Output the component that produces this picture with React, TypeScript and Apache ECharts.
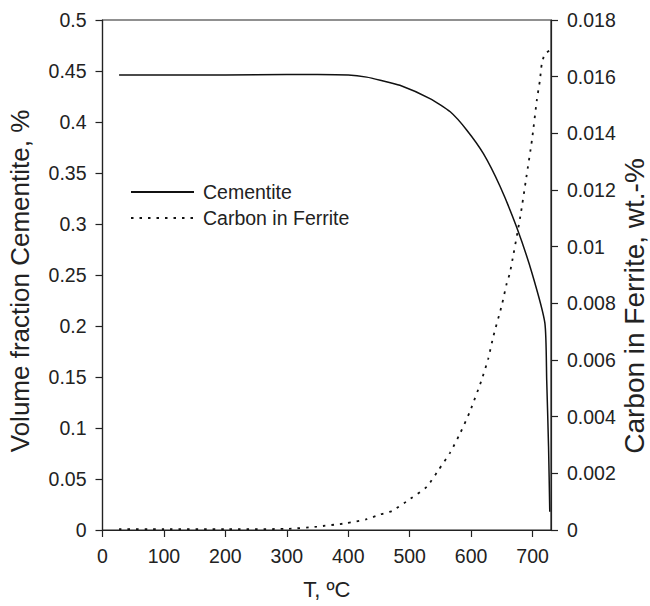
import React, { useEffect, useRef } from "react";
import * as echarts from "echarts";

const cementiteT = [27, 100, 200, 300, 350, 400, 430, 452, 484, 533, 566, 593, 620, 647, 674, 699, 720, 723, 726, 728];
const cementiteV = [0.446, 0.446, 0.446, 0.4465, 0.4465, 0.446, 0.444, 0.441, 0.436, 0.423, 0.41, 0.392, 0.369, 0.337, 0.297, 0.252, 0.203, 0.147, 0.082, 0.018];

const carbonT = [27, 100, 200, 300, 349, 397, 430, 452, 471, 501, 528, 547, 566, 582, 598, 617, 628, 636, 650, 658, 663, 680, 690, 699, 707, 712, 715, 720, 729];
const carbonC = [0.00003, 0.00003, 0.00003, 0.00004, 0.00012, 0.00024, 0.00038, 0.00055, 0.00067, 0.0011, 0.00153, 0.00212, 0.00274, 0.00341, 0.00418, 0.00529, 0.00606, 0.00682, 0.00794, 0.00871, 0.00906, 0.01106, 0.01247, 0.01376, 0.01518, 0.01588, 0.01645, 0.0168, 0.01694];

const FONT = "Arial, 'Liberation Sans', sans-serif";
const INK = "#222";

export default function App() {
  const ref = useRef<HTMLDivElement>(null);
  useEffect(() => {
    if (!ref.current) return;
    const chart = echarts.init(ref.current, undefined, { renderer: "svg" });
    const axisCommon = {
      axisLine: { show: true, lineStyle: { color: INK, width: 1.2 } },
      axisTick: { show: true, inside: false, length: 7, lineStyle: { color: INK, width: 1.2 } },
      splitLine: { show: false },
      axisLabel: { color: INK, fontSize: 19.5, fontFamily: FONT, margin: 16 },
      nameMoveOverlap: false,
    };
    chart.setOption({
      animation: false,
      backgroundColor: "#fff",
      grid: {
        left: 102.5,
        right: 99,
        top: 20,
        bottom: 76,
        show: true,
        borderColor: INK,
        borderWidth: 1.2,
        backgroundColor: "transparent",
        outerBoundsMode: "none",
        containLabel: false,
      },
      legend: {
        orient: "vertical",
        left: 125,
        top: 177,
        itemWidth: 63,
        itemHeight: 10,
        itemGap: 6,
        itemStyle: { opacity: 0 },
        textStyle: { color: INK, fontSize: 19.5, fontFamily: FONT, padding: [0, 0, 0, 4] },
        data: ["Cementite", "Carbon in Ferrite"],
      },
      xAxis: {
        type: "value",
        min: 0,
        max: 730,
        interval: 100,
        name: "T, ºC",
        nameLocation: "middle",
        nameGap: 48,
        nameTextStyle: { color: INK, fontSize: 22, fontFamily: FONT },
        ...axisCommon,
        axisLabel: { ...axisCommon.axisLabel, showMaxLabel: false },
      },
      yAxis: [
        {
          type: "value",
          min: 0,
          max: 0.5,
          interval: 0.05,
          name: "Volume fraction Cementite, %",
          nameLocation: "middle",
          nameGap: 70,
          nameTextStyle: { color: INK, fontSize: 26, fontFamily: FONT, padding: [0, 12, 0, 0] },
          ...axisCommon,
        },
        {
          type: "value",
          position: "right",
          min: 0,
          max: 0.018,
          interval: 0.002,
          name: "Carbon in Ferrite, wt.-%",
          nameLocation: "middle",
          nameGap: 69,
          nameTextStyle: { color: INK, fontSize: 28, fontFamily: FONT, padding: [0, 62, 0, 0] },
          ...axisCommon,
        },
      ],
      series: [
        {
          name: "Cementite",
          type: "line",
          yAxisIndex: 0,
          showSymbol: false,
          symbol: "none",
          smooth: 0.2,
          lineStyle: { color: "#111", width: 1.5, type: "solid" },
          itemStyle: { color: "#111" },
          data: cementiteT.map((t, i) => [t, cementiteV[i]]),
        },
        {
          name: "Carbon in Ferrite",
          type: "line",
          yAxisIndex: 1,
          showSymbol: false,
          symbol: "none",
          smooth: 0.2,
          lineStyle: { color: "#111", width: 1.8, type: [2.5, 6] },
          itemStyle: { color: "#111" },
          data: carbonT.map((t, i) => [t, carbonC[i]]),
        },
      ],
    });
    return () => chart.dispose();
  }, []);
  return (
    <div
      ref={ref}
      style={{ position: "fixed", left: 0, top: 0, width: 650, height: 606, background: "#fff" }}
    />
  );
}
